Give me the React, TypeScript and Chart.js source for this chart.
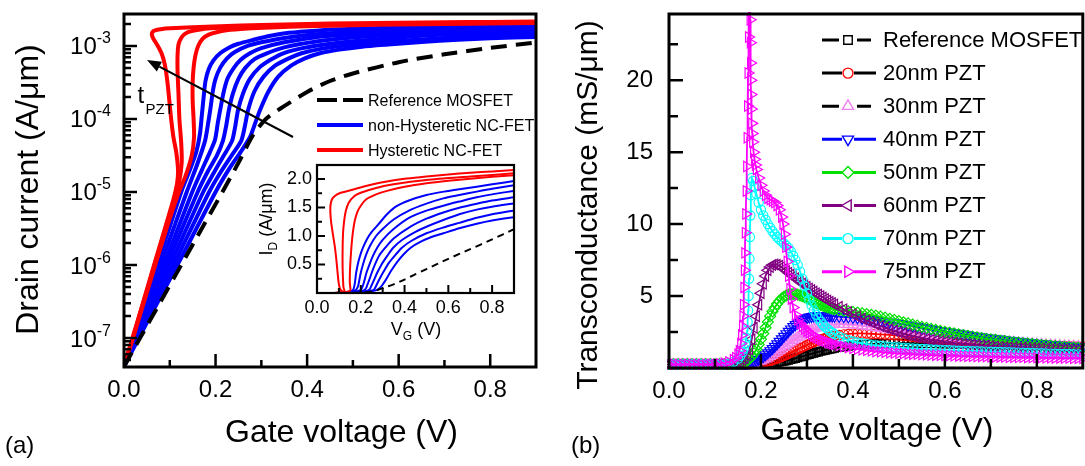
import React, { useEffect, useRef } from 'react';
import { Chart, registerables } from 'chart.js';

Chart.register(...registerables);

const FONT = "'Liberation Sans', Arial, Helvetica, sans-serif";

// ================= Panel (a): gate voltage (V) and log10 of drain current (A/um) =================
const refV = [0, 0.035, 0.08, 0.125, 0.17, 0.215, 0.25, 0.282, 0.31, 0.341, 0.4, 0.45, 0.5, 0.6, 0.7, 0.8, 0.9];
const refLogI = [-7.39, -7.0, -6.5, -6.0, -5.5, -5.0, -4.6, -4.22, -4.0, -3.86, -3.63, -3.48, -3.377, -3.222, -3.114, -3.027, -2.951];

const b1V = [0, 0.04, 0.08, 0.125, 0.145, 0.158, 0.166, 0.17, 0.174, 0.178, 0.185, 0.195, 0.21, 0.23, 0.25, 0.28, 0.32, 0.36, 0.42, 0.5, 0.58, 0.65, 0.73, 0.8, 0.9];
const b1LogI = [-7.39, -6.63, -5.86, -5.0, -4.68, -4.45, -4.2, -3.95, -3.7, -3.48, -3.32, -3.2, -3.1, -3.02, -2.97, -2.92, -2.86, -2.82, -2.79, -2.765, -2.75, -2.74, -2.73, -2.72, -2.707];
const b2V = [0, 0.04, 0.09, 0.137, 0.16, 0.177, 0.184, 0.189, 0.194, 0.2, 0.21, 0.225, 0.243, 0.27, 0.3, 0.35, 0.42, 0.5, 0.577, 0.65, 0.73, 0.8, 0.9];
const b2LogI = [-7.39, -6.69, -5.82, -5.0, -4.62, -4.3, -4.05, -3.85, -3.62, -3.45, -3.3, -3.17, -3.08, -3.0, -2.95, -2.89, -2.84, -2.805, -2.78, -2.765, -2.75, -2.738, -2.724];
const b3V = [0, 0.05, 0.1, 0.149, 0.17, 0.188, 0.199, 0.205, 0.21, 0.217, 0.226, 0.24, 0.255, 0.275, 0.3, 0.35, 0.42, 0.5, 0.577, 0.65, 0.73, 0.8, 0.9];
const b3LogI = [-7.39, -6.59, -5.79, -5.0, -4.7, -4.45, -4.28, -4.05, -3.88, -3.65, -3.45, -3.3, -3.19, -3.1, -3.03, -2.95, -2.88, -2.84, -2.815, -2.795, -2.775, -2.762, -2.747];
const b4V = [0, 0.05, 0.1, 0.161, 0.183, 0.203, 0.216, 0.223, 0.229, 0.238, 0.25, 0.265, 0.285, 0.312, 0.35, 0.42, 0.5, 0.577, 0.65, 0.73, 0.8, 0.9];
const b4LogI = [-7.39, -6.65, -5.9, -5.0, -4.72, -4.5, -4.3, -4.1, -3.88, -3.65, -3.45, -3.3, -3.18, -3.1, -3.02, -2.94, -2.885, -2.85, -2.825, -2.805, -2.79, -2.775];
const b5V = [0, 0.05, 0.11, 0.173, 0.195, 0.218, 0.236, 0.243, 0.249, 0.26, 0.275, 0.295, 0.32, 0.348, 0.39, 0.45, 0.5, 0.577, 0.65, 0.73, 0.8, 0.9];
const b5LogI = [-7.39, -6.7, -5.87, -5.0, -4.75, -4.5, -4.3, -4.1, -3.88, -3.65, -3.45, -3.3, -3.19, -3.1, -3.03, -2.97, -2.935, -2.893, -2.86, -2.835, -2.82, -2.804];
const b6V = [0, 0.05, 0.12, 0.186, 0.21, 0.235, 0.256, 0.264, 0.271, 0.285, 0.305, 0.33, 0.36, 0.388, 0.43, 0.5, 0.577, 0.65, 0.73, 0.8, 0.9];
const b6LogI = [-7.39, -6.75, -5.85, -5.0, -4.74, -4.5, -4.3, -4.1, -3.88, -3.62, -3.42, -3.27, -3.17, -3.1, -3.04, -2.98, -2.94, -2.91, -2.88, -2.86, -2.839];
const b7V = [0, 0.05, 0.12, 0.2, 0.23, 0.255, 0.275, 0.287, 0.297, 0.315, 0.337, 0.365, 0.395, 0.428, 0.47, 0.52, 0.577, 0.65, 0.73, 0.8, 0.9];
const b7LogI = [-7.39, -6.79, -5.96, -5.0, -4.68, -4.45, -4.25, -4.05, -3.88, -3.63, -3.42, -3.27, -3.17, -3.1, -3.05, -3.01, -2.98, -2.945, -2.915, -2.895, -2.876];

const r1V = [0, 0.02, 0.04, 0.06, 0.08, 0.095, 0.108, 0.116, 0.118, 0.114, 0.108, 0.103, 0.099, 0.095, 0.089, 0.082, 0.073, 0.065, 0.061, 0.062, 0.068, 0.08, 0.1, 0.15, 0.21, 0.3, 0.4, 0.5, 0.6, 0.7, 0.8, 0.9];
const r1LogI = [-7.39, -6.97, -6.55, -6.12, -5.7, -5.38, -5.1, -4.88, -4.7, -4.45, -4.25, -4.0, -3.75, -3.5, -3.25, -3.1, -2.99, -2.91, -2.85, -2.81, -2.785, -2.77, -2.758, -2.745, -2.73, -2.712, -2.698, -2.69, -2.682, -2.676, -2.671, -2.666];
const r2V = [0, 0.02, 0.04, 0.06, 0.08, 0.095, 0.11, 0.12, 0.126, 0.125, 0.121, 0.119, 0.117, 0.117, 0.119, 0.124, 0.132, 0.145, 0.17, 0.2, 0.27, 0.35, 0.5, 0.7, 0.9];
const r2LogI = [-7.39, -6.98, -6.56, -6.14, -5.72, -5.41, -5.1, -4.88, -4.6, -4.33, -4.0, -3.65, -3.35, -3.12, -2.98, -2.9, -2.84, -2.8, -2.77, -2.755, -2.735, -2.72, -2.703, -2.69, -2.678];
const r3V = [0, 0.02, 0.04, 0.06, 0.08, 0.1, 0.12, 0.135, 0.148, 0.153, 0.152, 0.15, 0.15, 0.152, 0.156, 0.162, 0.172, 0.185, 0.2, 0.224, 0.27, 0.32, 0.4, 0.5, 0.6, 0.7, 0.8, 0.9];
const r3LogI = [-7.39, -6.99, -6.58, -6.17, -5.76, -5.36, -5.0, -4.77, -4.5, -4.25, -4.0, -3.75, -3.5, -3.3, -3.13, -3.0, -2.9, -2.845, -2.815, -2.785, -2.762, -2.747, -2.73, -2.716, -2.706, -2.698, -2.691, -2.685];

const legendA = ['Reference MOSFET', 'non-Hysteretic NC-FET', 'Hysteretic NC-FET'];

// ================= Panel (b): gate voltage (V) and transconductance (mS/um) =================
const gmV = [0, 0.01, 0.02, 0.03, 0.04, 0.05, 0.06, 0.07, 0.08, 0.09, 0.1, 0.11, 0.12, 0.13,
  0.14, 0.145, 0.15, 0.155, 0.16, 0.165, 0.17, 0.175, 0.18, 0.185, 0.19, 0.195, 0.2, 0.205, 0.21, 0.215, 0.22, 0.225, 0.23, 0.235, 0.24, 0.245, 0.25, 0.255, 0.26, 0.265, 0.27, 0.275, 0.28, 0.285, 0.29, 0.295, 0.3, 0.305, 0.31, 0.315, 0.32, 0.325, 0.33, 0.335, 0.34, 0.345, 0.35, 0.355, 0.36,
  0.37, 0.38, 0.39, 0.4, 0.41, 0.42, 0.43, 0.44, 0.45, 0.46, 0.47, 0.48, 0.49, 0.5, 0.51, 0.52, 0.53, 0.54, 0.55, 0.56, 0.57, 0.58, 0.59, 0.6, 0.61, 0.62, 0.63, 0.64, 0.65, 0.66, 0.67, 0.68, 0.69, 0.7, 0.71, 0.72, 0.73, 0.74, 0.75, 0.76, 0.77, 0.78, 0.79, 0.8, 0.81, 0.82, 0.83, 0.84, 0.85, 0.86, 0.87, 0.88, 0.89, 0.9];

const gmRef = [0.25, 0.25, 0.25, 0.25, 0.25, 0.25, 0.25, 0.25, 0.25, 0.25, 0.25, 0.25, 0.25, 0.25,
  0.25, 0.25, 0.25, 0.25, 0.25, 0.25, 0.25, 0.25, 0.25, 0.26, 0.26, 0.27, 0.27, 0.28, 0.3, 0.31, 0.33, 0.35, 0.37, 0.39, 0.42, 0.45, 0.48, 0.51, 0.55, 0.59, 0.63, 0.67, 0.72, 0.76, 0.81, 0.85, 0.9, 0.94, 0.99, 1.03, 1.08, 1.12, 1.16, 1.2, 1.24, 1.27, 1.31, 1.34, 1.37,
  1.43, 1.48, 1.52, 1.56, 1.59, 1.62, 1.64, 1.66, 1.68, 1.69, 1.7, 1.71, 1.71, 1.72, 1.72, 1.72, 1.72, 1.71, 1.71, 1.7, 1.7, 1.69, 1.69, 1.68, 1.67, 1.67, 1.66, 1.65, 1.64, 1.63, 1.63, 1.62, 1.61, 1.6, 1.59, 1.58, 1.58, 1.57, 1.56, 1.55, 1.54, 1.54, 1.53, 1.52, 1.51, 1.5, 1.5, 1.49, 1.48, 1.47, 1.46, 1.46, 1.45, 1.44];
const gm20 = [0.25, 0.25, 0.25, 0.25, 0.25, 0.25, 0.25, 0.25, 0.25, 0.25, 0.25, 0.25, 0.25, 0.25,
  0.25, 0.25, 0.25, 0.25, 0.25, 0.25, 0.26, 0.26, 0.27, 0.28, 0.3, 0.32, 0.35, 0.38, 0.42, 0.46, 0.5, 0.55, 0.6, 0.66, 0.72, 0.78, 0.85, 0.92, 1.0, 1.07, 1.15, 1.22, 1.3, 1.37, 1.45, 1.52, 1.6, 1.67, 1.74, 1.8, 1.87, 1.92, 1.98, 2.03, 2.08, 2.13, 2.17, 2.2, 2.24,
  2.3, 2.34, 2.37, 2.39, 2.4, 2.4, 2.39, 2.38, 2.36, 2.34, 2.32, 2.3, 2.27, 2.25, 2.22, 2.2, 2.17, 2.14, 2.12, 2.09, 2.06, 2.04, 2.01, 1.99, 1.96, 1.94, 1.92, 1.89, 1.87, 1.85, 1.83, 1.81, 1.79, 1.77, 1.75, 1.73, 1.71, 1.7, 1.68, 1.66, 1.65, 1.63, 1.62, 1.6, 1.59, 1.58, 1.56, 1.55, 1.54, 1.53, 1.52, 1.51, 1.5, 1.49];
const gm30 = [0.25, 0.25, 0.25, 0.25, 0.25, 0.25, 0.25, 0.25, 0.25, 0.25, 0.25, 0.25, 0.25, 0.25,
  0.25, 0.25, 0.25, 0.25, 0.26, 0.26, 0.27, 0.29, 0.32, 0.35, 0.4, 0.45, 0.5, 0.56, 0.63, 0.71, 0.8, 0.9, 1.0, 1.11, 1.22, 1.33, 1.45, 1.56, 1.68, 1.79, 1.9, 2.01, 2.12, 2.22, 2.32, 2.41, 2.5, 2.58, 2.65, 2.72, 2.78, 2.83, 2.88, 2.92, 2.95, 2.98, 3.0, 3.02, 3.03,
  3.04, 3.04, 3.02, 3.0, 2.97, 2.93, 2.89, 2.85, 2.81, 2.76, 2.72, 2.67, 2.63, 2.58, 2.54, 2.5, 2.46, 2.42, 2.38, 2.34, 2.3, 2.26, 2.23, 2.19, 2.16, 2.13, 2.1, 2.06, 2.03, 2.0, 1.97, 1.95, 1.92, 1.89, 1.87, 1.84, 1.82, 1.79, 1.77, 1.75, 1.72, 1.7, 1.68, 1.66, 1.64, 1.62, 1.6, 1.58, 1.56, 1.54, 1.53, 1.51, 1.49, 1.48];
const gm40 = [0.25, 0.25, 0.25, 0.25, 0.25, 0.25, 0.25, 0.25, 0.25, 0.25, 0.25, 0.25, 0.25, 0.25,
  0.25, 0.26, 0.26, 0.27, 0.28, 0.3, 0.32, 0.36, 0.4, 0.46, 0.52, 0.6, 0.7, 0.8, 0.92, 1.05, 1.2, 1.35, 1.5, 1.67, 1.85, 2.02, 2.2, 2.38, 2.55, 2.71, 2.87, 3.01, 3.13, 3.24, 3.34, 3.42, 3.49, 3.54, 3.58, 3.61, 3.63, 3.64, 3.65, 3.65, 3.64, 3.63, 3.62, 3.61, 3.6,
  3.58, 3.56, 3.54, 3.51, 3.48, 3.45, 3.42, 3.38, 3.34, 3.29, 3.24, 3.19, 3.14, 3.09, 3.03, 2.98, 2.92, 2.87, 2.81, 2.76, 2.7, 2.65, 2.6, 2.55, 2.5, 2.45, 2.4, 2.35, 2.3, 2.25, 2.2, 2.16, 2.12, 2.08, 2.04, 2.0, 1.96, 1.92, 1.88, 1.85, 1.81, 1.78, 1.75, 1.72, 1.69, 1.66, 1.63, 1.61, 1.58, 1.56, 1.53, 1.51, 1.49, 1.47];
const gm50 = [0.25, 0.25, 0.25, 0.25, 0.25, 0.25, 0.25, 0.25, 0.25, 0.25, 0.25, 0.25, 0.25, 0.25,
  0.26, 0.27, 0.28, 0.3, 0.34, 0.4, 0.5, 0.63, 0.8, 1.02, 1.3, 1.63, 2.0, 2.4, 2.8, 3.2, 3.6, 3.93, 4.2, 4.45, 4.65, 4.82, 4.95, 5.04, 5.1, 5.13, 5.14, 5.13, 5.1, 5.05, 4.99, 4.92, 4.84, 4.76, 4.68, 4.6, 4.52, 4.45, 4.38, 4.32, 4.26, 4.21, 4.16, 4.12, 4.08,
  4.02, 3.97, 3.93, 3.89, 3.85, 3.8, 3.75, 3.7, 3.64, 3.57, 3.5, 3.42, 3.34, 3.26, 3.18, 3.1, 3.02, 2.94, 2.86, 2.79, 2.72, 2.65, 2.58, 2.52, 2.46, 2.4, 2.34, 2.28, 2.23, 2.18, 2.13, 2.08, 2.03, 1.99, 1.95, 1.91, 1.87, 1.83, 1.79, 1.76, 1.72, 1.69, 1.66, 1.63, 1.6, 1.57, 1.54, 1.52, 1.49, 1.47, 1.44, 1.42, 1.4, 1.38];
const gm60 = [0.25, 0.25, 0.25, 0.25, 0.25, 0.25, 0.25, 0.25, 0.25, 0.25, 0.25, 0.25, 0.25, 0.25,
  0.27, 0.3, 0.35, 0.42, 0.55, 0.7, 0.9, 1.3, 2.0, 2.8, 3.6, 4.4, 5.2, 5.85, 6.4, 6.8, 7.02, 7.15, 7.2, 7.17, 7.1, 7.0, 6.88, 6.75, 6.62, 6.49, 6.36, 6.24, 6.12, 6.0, 5.88, 5.76, 5.65, 5.53, 5.42, 5.31, 5.2, 5.1, 5.0, 4.9, 4.8, 4.7, 4.6, 4.51, 4.42,
  4.25, 4.08, 3.9, 3.74, 3.58, 3.44, 3.3, 3.17, 3.04, 2.92, 2.8, 2.69, 2.58, 2.48, 2.39, 2.3, 2.22, 2.14, 2.07, 2.0, 1.95, 1.9, 1.85, 1.81, 1.77, 1.73, 1.7, 1.67, 1.64, 1.61, 1.59, 1.56, 1.54, 1.52, 1.5, 1.48, 1.46, 1.44, 1.43, 1.41, 1.4, 1.38, 1.37, 1.35, 1.34, 1.33, 1.31, 1.3, 1.29, 1.28, 1.27, 1.26, 1.25, 1.24];

// hysteretic devices: non-uniform voltage points as [V, gm] pairs
const gm70Pts = [[0, 0.25], [0.01, 0.25], [0.02, 0.25], [0.03, 0.25], [0.04, 0.25], [0.05, 0.25], [0.06, 0.25], [0.07, 0.25], [0.08, 0.25], [0.09, 0.25], [0.1, 0.25], [0.11, 0.25], [0.12, 0.25], [0.13, 0.3], [0.14, 0.42], [0.15, 0.65], [0.155, 0.85], [0.16, 1.1], [0.163, 1.35], [0.166, 1.7], [0.168, 2.1], [0.17, 2.6], [0.171, 3.2], [0.172, 4.0], [0.173, 5.0], [0.174, 6.2], [0.175, 7.6], [0.176, 9.1], [0.177, 10.6], [0.178, 12.0], [0.18, 13.2], [0.183, 13.0], [0.186, 12.6], [0.19, 12.1], [0.195, 11.5], [0.2, 11.0], [0.205, 10.6], [0.21, 10.3], [0.215, 10.0], [0.22, 9.75], [0.225, 9.5], [0.23, 9.3], [0.235, 9.1], [0.24, 8.95], [0.245, 8.8], [0.25, 8.65], [0.255, 8.5], [0.26, 8.35], [0.265, 8.1], [0.27, 7.8], [0.275, 7.5], [0.28, 7.15], [0.285, 6.7], [0.29, 6.2], [0.295, 5.7], [0.3, 5.2], [0.305, 4.75], [0.31, 4.35], [0.315, 4.0], [0.32, 3.7], [0.325, 3.45], [0.33, 3.22], [0.335, 3.02], [0.34, 2.85], [0.345, 2.7], [0.35, 2.57], [0.355, 2.45], [0.36, 2.35], [0.37, 2.18], [0.38, 2.05], [0.39, 1.94], [0.4, 1.85], [0.41, 1.78], [0.42, 1.72], [0.43, 1.66], [0.44, 1.61], [0.45, 1.57], [0.46, 1.53], [0.47, 1.5], [0.48, 1.47], [0.49, 1.44], [0.5, 1.42], [0.51, 1.4], [0.52, 1.38], [0.53, 1.36], [0.54, 1.34], [0.55, 1.32], [0.56, 1.3], [0.57, 1.29], [0.58, 1.27], [0.59, 1.26], [0.6, 1.24], [0.61, 1.23], [0.62, 1.22], [0.63, 1.2], [0.64, 1.19], [0.65, 1.18], [0.66, 1.17], [0.67, 1.16], [0.68, 1.15], [0.69, 1.14], [0.7, 1.13], [0.71, 1.12], [0.72, 1.11], [0.73, 1.1], [0.74, 1.09], [0.75, 1.08], [0.76, 1.07], [0.77, 1.06], [0.78, 1.05], [0.79, 1.04], [0.8, 1.03], [0.81, 1.02], [0.82, 1.01], [0.83, 1.0], [0.84, 0.99], [0.85, 0.98], [0.86, 0.97], [0.87, 0.97], [0.88, 0.96], [0.89, 0.95], [0.9, 0.94]];
const gm75Pts = [[0, 0.25], [0.01, 0.25], [0.02, 0.25], [0.03, 0.25], [0.04, 0.25], [0.05, 0.25], [0.06, 0.25], [0.07, 0.25], [0.08, 0.25], [0.09, 0.25], [0.1, 0.25], [0.11, 0.28], [0.12, 0.33], [0.13, 0.42], [0.14, 0.58], [0.145, 0.72], [0.15, 0.95], [0.153, 1.2], [0.156, 1.7], [0.158, 2.3], [0.16, 2.9], [0.161, 3.6], [0.162, 4.4], [0.163, 5.6], [0.164, 6.8], [0.165, 8.0], [0.166, 9.4], [0.167, 10.7], [0.168, 12.3], [0.169, 14.0], [0.17, 16.0], [0.171, 18.2], [0.172, 20.5], [0.173, 23.0], [0.174, 25.5], [0.175, 27], [0.176, 25.8], [0.1765, 24.2], [0.177, 22.6], [0.1775, 21.2], [0.178, 20.0], [0.1785, 19.0], [0.179, 18.0], [0.18, 17.0], [0.181, 16.3], [0.182, 15.7], [0.184, 15.0], [0.186, 14.5], [0.188, 14.1], [0.19, 13.8], [0.195, 13.2], [0.2, 12.7], [0.205, 12.3], [0.21, 12.0], [0.215, 11.8], [0.22, 11.7], [0.225, 11.6], [0.23, 11.5], [0.235, 11.3], [0.24, 11.0], [0.245, 10.5], [0.248, 10.0], [0.251, 9.3], [0.254, 8.4], [0.257, 7.4], [0.26, 6.4], [0.263, 5.5], [0.266, 4.8], [0.27, 4.2], [0.275, 3.7], [0.28, 3.35], [0.285, 3.1], [0.29, 2.9], [0.295, 2.72], [0.3, 2.57], [0.305, 2.44], [0.31, 2.33], [0.315, 2.23], [0.32, 2.14], [0.325, 2.06], [0.33, 1.98], [0.335, 1.91], [0.34, 1.85], [0.345, 1.79], [0.35, 1.74], [0.355, 1.69], [0.36, 1.64], [0.37, 1.56], [0.38, 1.49], [0.39, 1.43], [0.4, 1.37], [0.41, 1.32], [0.42, 1.27], [0.43, 1.23], [0.44, 1.19], [0.45, 1.15], [0.46, 1.12], [0.47, 1.09], [0.48, 1.06], [0.49, 1.04], [0.5, 1.02], [0.51, 1.0], [0.52, 0.98], [0.53, 0.96], [0.54, 0.95], [0.55, 0.93], [0.56, 0.92], [0.57, 0.9], [0.58, 0.89], [0.59, 0.88], [0.6, 0.87], [0.61, 0.86], [0.62, 0.85], [0.63, 0.84], [0.64, 0.83], [0.65, 0.82], [0.66, 0.81], [0.67, 0.8], [0.68, 0.8], [0.69, 0.79], [0.7, 0.78], [0.71, 0.77], [0.72, 0.77], [0.73, 0.76], [0.74, 0.75], [0.75, 0.75], [0.76, 0.74], [0.77, 0.74], [0.78, 0.73], [0.79, 0.73], [0.8, 0.72], [0.81, 0.72], [0.82, 0.71], [0.83, 0.71], [0.84, 0.7], [0.85, 0.7], [0.86, 0.69], [0.87, 0.69], [0.88, 0.68], [0.89, 0.68], [0.9, 0.67]];

const labelsB = ['Reference MOSFET', '20nm PZT', '30nm PZT', '40nm PZT', '50nm PZT', '60nm PZT', '70nm PZT', '75nm PZT'];

// ================= helpers =================
function logPts(v: number[], lg: number[], mult: number) {
  const n = Math.min(v.length, lg.length);
  const out: { x: number; y: number }[] = [];
  for (let i = 0; i < n; i++) out.push({ x: v[i], y: Math.pow(10, lg[i]) * mult });
  return out;
}
function gridPts(v: number[], g: number[]) {
  const n = Math.min(v.length, g.length);
  const out: { x: number; y: number }[] = [];
  for (let i = 0; i < n; i++) out.push({ x: v[i], y: g[i] });
  return out;
}
function pairPts(p: number[][]) {
  return p.map((q) => ({ x: q[0], y: q[1] }));
}

type TickCfg = {
  xMajor: number[]; xMinor: number[]; yMajor: number[]; yMinor: number[];
  majorLen: number; minorLen: number; lw: number; frameLw: number;
};

function framePlugin(id: string, t: TickCfg, extra?: (chart: any) => void) {
  return {
    id,
    afterDatasetsDraw(chart: any) {
      const { ctx, chartArea: a, scales } = chart;
      const xs = scales.x;
      const ys = scales.y;
      ctx.save();
      ctx.strokeStyle = '#000';
      ctx.lineCap = 'butt';
      ctx.lineWidth = t.lw;
      ctx.beginPath();
      const xt = (vals: number[], len: number) => {
        for (const v of vals) {
          const p = xs.getPixelForValue(v);
          ctx.moveTo(p, a.bottom);
          ctx.lineTo(p, a.bottom - len);
        }
      };
      const yt = (vals: number[], len: number) => {
        for (const v of vals) {
          const p = ys.getPixelForValue(v);
          ctx.moveTo(a.left, p);
          ctx.lineTo(a.left + len, p);
        }
      };
      xt(t.xMajor, t.majorLen);
      xt(t.xMinor, t.minorLen);
      yt(t.yMajor, t.majorLen);
      yt(t.yMinor, t.minorLen);
      ctx.stroke();
      ctx.lineWidth = t.frameLw;
      ctx.strokeRect(a.left, a.top, a.right - a.left, a.bottom - a.top);
      ctx.restore();
      if (extra) {
        ctx.save();
        extra(chart);
        ctx.restore();
      }
    },
  };
}

function fixX(h: number) {
  return (s: any) => { s.height = h; s.paddingLeft = 0; s.paddingRight = 0; };
}
function fixY(w: number) {
  return (s: any) => { s.width = w; s.paddingTop = 0; s.paddingBottom = 0; };
}

function drawMarker(ctx: CanvasRenderingContext2D, style: string, x: number, y: number, r: number, rotDeg: number) {
  ctx.beginPath();
  if (style === 'circle') {
    ctx.arc(x, y, r, 0, Math.PI * 2);
  } else if (style === 'rect') {
    const s = r * Math.SQRT1_2;
    ctx.rect(x - s, y - s, 2 * s, 2 * s);
  } else if (style === 'rectRot') {
    ctx.moveTo(x - r, y); ctx.lineTo(x, y - r); ctx.lineTo(x + r, y); ctx.lineTo(x, y + r); ctx.closePath();
  } else {
    let a = (rotDeg * Math.PI) / 180;
    ctx.moveTo(x + Math.sin(a) * r, y - Math.cos(a) * r);
    a += (2 * Math.PI) / 3;
    ctx.lineTo(x + Math.sin(a) * r, y - Math.cos(a) * r);
    a += (2 * Math.PI) / 3;
    ctx.lineTo(x + Math.sin(a) * r, y - Math.cos(a) * r);
    ctx.closePath();
  }
  ctx.stroke();
}

// log minor ticks for panel (a)
const aYMin = 4.01e-8;
const aYMax = 2.74e-3;
const aDecades = [-7, -6, -5, -4, -3];
function logMinor() {
  const out: number[] = [];
  for (let e = -8; e <= -3; e++) for (let k = 2; k <= 9; k++) {
    const v = k * Math.pow(10, e);
    if (v > aYMin && v < aYMax) out.push(v);
  }
  return out;
}

const BLUE = '#0000ff';
const RED = '#ff0000';

const styleB = [
  { color: '#000000', line: '#000000', ps: 'rect', rot: 0, r: 5.6, dash: true },
  { color: '#ff0000', line: '#000000', ps: 'circle', rot: 0, r: 4.6, dash: false },
  { color: '#f080f0', line: '#000000', ps: 'triangle', rot: 0, r: 6, dash: true },
  { color: '#0000ff', line: '#0000ff', ps: 'triangle', rot: 180, r: 6, dash: false },
  { color: '#00e000', line: '#00e000', ps: 'rectRot', rot: 0, r: 5.5, dash: false },
  { color: '#800080', line: '#800080', ps: 'triangle', rot: 270, r: 6, dash: false },
  { color: '#00ffff', line: '#00ffff', ps: 'circle', rot: 0, r: 4.6, dash: false },
  { color: '#ff00ff', line: '#ff00ff', ps: 'triangle', rot: 90, r: 6, dash: false },
];

export default function App() {
  const aRef = useRef<HTMLCanvasElement>(null);
  const iRef = useRef<HTMLCanvasElement>(null);
  const bRef = useRef<HTMLCanvasElement>(null);

  useEffect(() => {
    document.body.style.margin = '0';

    const blueSets = [
      [b1V, b1LogI], [b2V, b2LogI], [b3V, b3LogI], [b4V, b4LogI], [b5V, b5LogI], [b6V, b6LogI], [b7V, b7LogI],
    ];
    const redSets = [[r1V, r1LogI], [r2V, r2LogI], [r3V, r3LogI]];

    const mkSets = (mult: number, lw: number, dash: number[]) => {
      const ds: any[] = [];
      blueSets.forEach((s) => ds.push({ data: logPts(s[0], s[1], mult), borderColor: BLUE, borderWidth: lw, showLine: true, pointRadius: 0, tension: 0.25, order: 3 }));
      redSets.forEach((s) => ds.push({ data: logPts(s[0], s[1], mult), borderColor: RED, borderWidth: lw, showLine: true, pointRadius: 0, tension: 0.25, order: 2 }));
      ds.push({ data: logPts(refV, refLogI, mult), borderColor: '#000', borderWidth: lw, borderDash: dash, showLine: true, pointRadius: 0, tension: 0.25, order: 1 });
      return ds;
    };

    const drawA = (chart: any) => {
      const ctx: CanvasRenderingContext2D = chart.ctx;
      const ys = chart.scales.y;
      ctx.fillStyle = '#000';
      ctx.textBaseline = 'alphabetic';
      ctx.textAlign = 'left';
      for (const n of aDecades) {
        const py = ys.getPixelForValue(Math.pow(10, n));
        const sup = String(n);
        ctx.font = `24px ${FONT}`;
        const w10 = ctx.measureText('10').width;
        ctx.font = `16px ${FONT}`;
        const ws = ctx.measureText(sup).width;
        const right = 111;
        ctx.font = `24px ${FONT}`;
        ctx.fillText('10', right - ws - w10, py + 8.5);
        ctx.font = `16px ${FONT}`;
        ctx.fillText(sup, right - ws, py - 2.5);
      }
      ctx.font = `32px ${FONT}`;
      ctx.textAlign = 'center';
      ctx.fillText('Gate voltage (V)', 341.5, 442);
      ctx.save();
      ctx.translate(37.5, 189.5);
      ctx.rotate(-Math.PI / 2);
      ctx.fillText('Drain current (A/\u03bcm)', 0, 0);
      ctx.restore();
      ctx.textAlign = 'left';
      ctx.font = `24px ${FONT}`;
      ctx.fillText('(a)', 5, 453);
      const rows = [100, 125, 150];
      ctx.lineWidth = 4;
      ctx.lineCap = 'butt';
      ctx.strokeStyle = '#000';
      ctx.beginPath(); ctx.moveTo(317, rows[0]); ctx.lineTo(337, rows[0]); ctx.moveTo(343, rows[0]); ctx.lineTo(363, rows[0]); ctx.stroke();
      ctx.strokeStyle = BLUE;
      ctx.beginPath(); ctx.moveTo(317, rows[1]); ctx.lineTo(363, rows[1]); ctx.stroke();
      ctx.strokeStyle = RED;
      ctx.beginPath(); ctx.moveTo(317, rows[2]); ctx.lineTo(363, rows[2]); ctx.stroke();
      ctx.font = `16px ${FONT}`;
      legendA.forEach((t, i) => ctx.fillText(t, 368, rows[i] + 5.5));
      const x1 = 293, y1 = 137, x2 = 147, y2 = 60;
      const ang = Math.atan2(y2 - y1, x2 - x1);
      const hl = 14, hw = 5.5;
      const bx = x2 - Math.cos(ang) * hl, by = y2 - Math.sin(ang) * hl;
      ctx.strokeStyle = '#000';
      ctx.lineWidth = 2;
      ctx.beginPath(); ctx.moveTo(x1, y1); ctx.lineTo(bx, by); ctx.stroke();
      ctx.beginPath();
      ctx.moveTo(x2, y2);
      ctx.lineTo(bx + Math.sin(ang) * hw, by - Math.cos(ang) * hw);
      ctx.lineTo(bx - Math.sin(ang) * hw, by + Math.cos(ang) * hw);
      ctx.closePath();
      ctx.fill();
      ctx.font = `24px ${FONT}`;
      ctx.fillText('t', 137.5, 103);
      ctx.font = `15px ${FONT}`;
      ctx.fillText('PZT', 145.5, 114);
    };

    const chartA = new Chart(aRef.current as HTMLCanvasElement, {
      type: 'scatter',
      data: { datasets: mkSets(1, 4, [16, 9]) },
      options: {
        animation: false,
        responsive: false,
        events: [],
        layout: { padding: { left: 0, top: 14, right: 24, bottom: 0 } },
        plugins: { legend: { display: false }, tooltip: { enabled: false } },
        scales: {
          x: {
            type: 'linear', min: 0, max: 0.9,
            grid: { display: false, drawTicks: false }, border: { display: false },
            ticks: { stepSize: 0.2, includeBounds: false, maxRotation: 0, autoSkip: false, padding: 9, color: '#000', font: { size: 24, family: FONT }, callback: (v: any) => Number(v).toFixed(1) },
            afterFit: fixX(99),
          },
          y: {
            type: 'logarithmic', min: aYMin, max: aYMax,
            grid: { display: false, drawTicks: false }, border: { display: false },
            ticks: { display: false },
            afterFit: fixY(124),
          },
        },
      } as any,
      plugins: [framePlugin('frameA', {
        xMajor: [0.2, 0.4, 0.6, 0.8], xMinor: [0.1, 0.3, 0.5, 0.7],
        yMajor: aDecades.map((n) => Math.pow(10, n)), yMinor: logMinor(),
        majorLen: 13, minorLen: 7, lw: 2.5, frameLw: 3,
      }, drawA)],
    });

    const drawI = (chart: any) => {
      const ctx: CanvasRenderingContext2D = chart.ctx;
      ctx.fillStyle = '#000';
      ctx.textBaseline = 'alphabetic';
      ctx.save();
      ctx.translate(32, 69);
      ctx.rotate(-Math.PI / 2);
      ctx.font = `18px ${FONT}`;
      const wI = ctx.measureText('I').width;
      const wRest = ctx.measureText(' (A/\u03bcm)').width;
      ctx.font = `12px ${FONT}`;
      const wD = ctx.measureText('D').width;
      let x = -(wI + wD + wRest) / 2;
      ctx.textAlign = 'left';
      ctx.font = `18px ${FONT}`;
      ctx.fillText('I', x, 0); x += wI;
      ctx.font = `12px ${FONT}`;
      ctx.fillText('D', x, 5); x += wD;
      ctx.font = `18px ${FONT}`;
      ctx.fillText(' (A/\u03bcm)', x, 0);
      ctx.restore();
      ctx.font = `18px ${FONT}`;
      const wV = ctx.measureText('V').width;
      const wR = ctx.measureText(' (V)').width;
      ctx.font = `12px ${FONT}`;
      const wG = ctx.measureText('G').width;
      let xx = 176 - (wV + wG + wR) / 2;
      ctx.textAlign = 'left';
      ctx.font = `18px ${FONT}`;
      ctx.fillText('V', xx, 185); xx += wV;
      ctx.font = `12px ${FONT}`;
      ctx.fillText('G', xx, 190); xx += wG;
      ctx.font = `18px ${FONT}`;
      ctx.fillText(' (V)', xx, 185);
    };

    const chartI = new Chart(iRef.current as HTMLCanvasElement, {
      type: 'scatter',
      data: { datasets: mkSets(1000, 2, [7, 5]) },
      options: {
        animation: false,
        responsive: false,
        events: [],
        layout: { padding: { left: 0, top: 15, right: 16, bottom: 0 } },
        plugins: { legend: { display: false }, tooltip: { enabled: false } },
        scales: {
          x: {
            type: 'linear', min: 0, max: 0.9,
            grid: { display: false, drawTicks: false }, border: { display: false },
            ticks: { stepSize: 0.2, includeBounds: false, maxRotation: 0, autoSkip: false, padding: 4, color: '#000', font: { size: 18, family: FONT }, callback: (v: any) => Number(v).toFixed(1) },
            afterFit: fixX(57),
          },
          y: {
            type: 'linear', min: 0, max: 2.245,
            grid: { display: false, drawTicks: false }, border: { display: false },
            ticks: { stepSize: 0.5, includeBounds: false, autoSkip: false, padding: 5, color: '#000', font: { size: 18, family: FONT }, callback: (v: any) => (Number(v) === 0 ? '' : Number(v).toFixed(1)) },
            afterFit: fixY(77),
          },
        },
      } as any,
      plugins: [framePlugin('frameI', {
        xMajor: [0.2, 0.4, 0.6, 0.8], xMinor: [0.1, 0.3, 0.5, 0.7],
        yMajor: [0.5, 1.0, 1.5, 2.0], yMinor: [0.25, 0.75, 1.25, 1.75],
        majorLen: 8, minorLen: 5, lw: 2, frameLw: 2.2,
      }, drawI)],
    });

    const seriesData = [
      gridPts(gmV, gmRef), gridPts(gmV, gm20), gridPts(gmV, gm30), gridPts(gmV, gm40),
      gridPts(gmV, gm50), gridPts(gmV, gm60), pairPts(gm70Pts), pairPts(gm75Pts),
    ];
    const dsB = seriesData.map((d, i) => ({
      label: labelsB[i],
      data: d,
      showLine: true,
      borderColor: styleB[i].color,
      borderWidth: 1.8,
      pointStyle: styleB[i].ps,
      pointRotation: styleB[i].rot,
      pointRadius: styleB[i].r,
      pointBorderWidth: 1.2,
      pointBorderColor: styleB[i].color,
      pointBackgroundColor: 'rgba(0,0,0,0)',
      tension: 0,
      order: 7 - i,
      clip: 2,
    }));

    const drawB = (chart: any) => {
      const ctx: CanvasRenderingContext2D = chart.ctx;
      ctx.fillStyle = '#000';
      ctx.textBaseline = 'alphabetic';
      ctx.font = `32px ${FONT}`;
      ctx.textAlign = 'center';
      ctx.fillText('Gate voltage (V)', 317, 440);
      ctx.save();
      ctx.translate(37, 205);
      ctx.rotate(-Math.PI / 2);
      ctx.font = `30px ${FONT}`;
      ctx.fillText('Transconductance (mS/\u03bcm)', 0, 0);
      ctx.restore();
      ctx.textAlign = 'left';
      ctx.font = `24px ${FONT}`;
      ctx.fillText('(b)', 11, 453);
      labelsB.forEach((t, i) => {
        const s = styleB[i];
        const y = 40 + 33.1 * i;
        const mx = 288;
        ctx.strokeStyle = s.line;
        ctx.lineWidth = 3;
        ctx.beginPath();
        if (s.dash) {
          ctx.moveTo(262, y); ctx.lineTo(279, y); ctx.moveTo(297, y); ctx.lineTo(311, y);
        } else {
          ctx.moveTo(262, y); ctx.lineTo(282, y); ctx.moveTo(294, y); ctx.lineTo(316, y);
        }
        ctx.stroke();
        ctx.strokeStyle = s.color;
        ctx.lineWidth = 1.4;
        drawMarker(ctx, s.ps, mx, y, s.r + 0.4, s.rot);
        ctx.fillStyle = '#000';
        ctx.font = `22px ${FONT}`;
        ctx.fillText(t, 323, y + 6.5);
      });
    };

    const chartB = new Chart(bRef.current as HTMLCanvasElement, {
      type: 'scatter',
      data: { datasets: dsB },
      options: {
        animation: false,
        responsive: false,
        events: [],
        layout: { padding: { left: 0, top: 14, right: 4, bottom: 0 } },
        plugins: { legend: { display: false }, tooltip: { enabled: false } },
        scales: {
          x: {
            type: 'linear', min: 0, max: 0.9,
            grid: { display: false, drawTicks: false }, border: { display: false },
            ticks: { stepSize: 0.2, includeBounds: false, maxRotation: 0, autoSkip: false, padding: 9, color: '#000', font: { size: 24, family: FONT }, callback: (v: any) => Number(v).toFixed(1) },
            afterFit: fixX(98),
          },
          y: {
            type: 'linear', min: 0, max: 24.6,
            grid: { display: false, drawTicks: false }, border: { display: false },
            ticks: { stepSize: 5, includeBounds: false, autoSkip: false, padding: 16, color: '#000', font: { size: 24, family: FONT }, callback: (v: any) => (Number(v) === 0 ? '' : String(v)) },
            afterFit: fixY(109),
          },
        },
      } as any,
      plugins: [framePlugin('frameB', {
        xMajor: [0.2, 0.4, 0.6, 0.8], xMinor: [0.1, 0.3, 0.5, 0.7],
        yMajor: [5, 10, 15, 20], yMinor: [2.5, 7.5, 12.5, 17.5, 22.5],
        majorLen: 14, minorLen: 9, lw: 2.5, frameLw: 3,
      }, drawB)],
    });

    return () => {
      chartA.destroy();
      chartI.destroy();
      chartB.destroy();
    };
  }, []);

  return (
    <div style={{ position: 'relative', width: 1085, height: 466, overflow: 'hidden', background: '#ffffff' }}>
      <canvas ref={aRef} width={560} height={466} style={{ position: 'absolute', left: 0, top: 0 }} />
      <canvas ref={bRef} width={530} height={466} style={{ position: 'absolute', left: 560, top: 0 }} />
      <canvas ref={iRef} width={290} height={200} style={{ position: 'absolute', left: 240, top: 150 }} />
    </div>
  );
}
